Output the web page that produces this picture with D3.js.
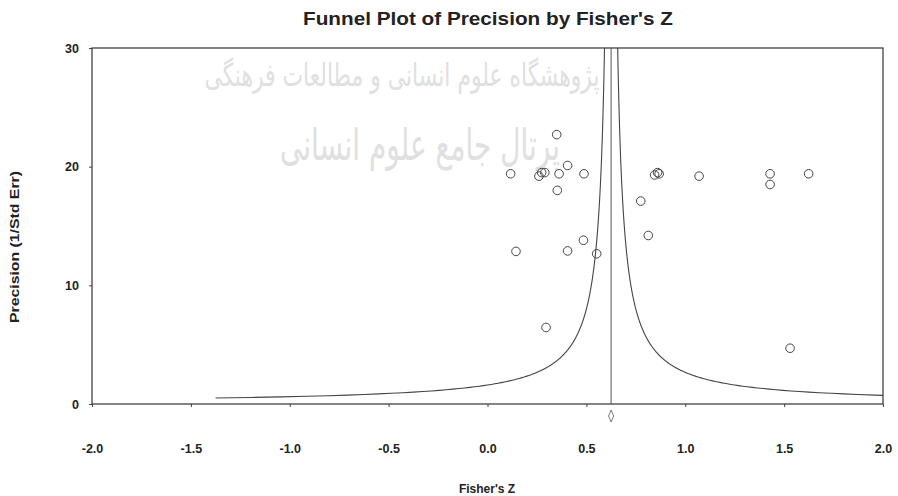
<!DOCTYPE html>
<html>
<head>
<meta charset="utf-8">
<script src="https://cdn.jsdelivr.net/npm/d3@7"></script>
<style>
  body { margin: 0; background: #ffffff; }
  svg { display: block; font-family: "Liberation Sans", Arial, sans-serif; }
</style>
</head>
<body>
<div id="funnel"></div>
<script>

// Study effects (Fisher's Z) and their precision (1/Std Err)
const studyZ = [0.35, 0.117, 0.26, 0.274, 0.29, 0.362, 0.405, 0.488, 0.353,
    0.144, 0.405, 0.485, 0.552, 0.296,
    0.845, 0.86, 0.868, 1.07, 1.429, 1.429, 1.624, 0.775, 0.813, 1.53];
const studyPrecision = [22.7, 19.4, 19.2, 19.5, 19.5, 19.4, 20.1, 19.4, 18.0,
    12.86, 12.9, 13.8, 12.66, 6.45,
    19.3, 19.5, 19.4, 19.2, 19.4, 18.5, 19.4, 17.1, 14.2, 4.7];

// Combined estimate (vertical line and diamond)
const meanZ = 0.625;

// Tick labels
const xTicks = [-2.0, -1.5, -1.0, -0.5, 0.0, 0.5, 1.0, 1.5, 2.0];
const yTicks = [0, 10, 20, 30];

//---------------------------------------------------------------------------------------

const width = 898;
const height = 496;
const margin = { top: 48, right: 15, bottom: 92, left: 92 };

const svg = d3.select("#funnel")
    .append("svg")
    .attr("width", width)
    .attr("height", height);

// Scales
const x = d3.scaleLinear()
    .domain([-2, 2])
    .range([margin.left, width - margin.right]);

const y = d3.scaleLinear()
    .domain([0, 30])
    .range([height - margin.bottom, margin.top]);

//---------------------------------------------------------------------------------------

// Faint watermark behind the plot
const watermark = svg.append("g")
    .attr("fill", "#e0e0e0")
    .attr("font-family", "DejaVu Sans")
    .attr("text-anchor", "middle")
    .attr("direction", "rtl");

watermark.append("text")
    .attr("x", 402)
    .attr("y", 86)
    .attr("font-size", 32)
    .attr("textLength", 395)
    .attr("lengthAdjust", "spacingAndGlyphs")
    .text("پژوهشگاه علوم انسانی و مطالعات فرهنگی");

watermark.append("text")
    .attr("x", 420)
    .attr("y", 160)
    .attr("font-size", 44)
    .attr("textLength", 280)
    .attr("lengthAdjust", "spacingAndGlyphs")
    .text("پرتال جامع علوم انسانی");

//---------------------------------------------------------------------------------------

// Title
svg.append("text")
    .attr("x", 488)
    .attr("y", 25)
    .attr("text-anchor", "middle")
    .attr("font-size", 19)
    .attr("font-weight", "bold")
    .attr("fill", "#222")
    .attr("textLength", 370)
    .attr("lengthAdjust", "spacingAndGlyphs")
    .text("Funnel Plot of Precision by Fisher's Z");

// Axes (plain hyphen for negatives, as in the original)
const fmt = d3.format(".1f");

const xAxis = svg.append("g")
    .attr("transform", `translate(0, ${y(0)})`)
    .call(d3.axisBottom(x)
        .tickValues(xTicks)
        .tickSize(3)
        .tickPadding(37)
        .tickFormat(d => fmt(d).replace("−", "-")));

const yAxis = svg.append("g")
    .attr("transform", `translate(${x(-2)}, 0)`)
    .call(d3.axisLeft(y)
        .tickValues(yTicks)
        .tickSize(3)
        .tickPadding(10));

[xAxis, yAxis].forEach(a => {
    a.select(".domain").remove();
    a.selectAll("line").attr("stroke", "#444");
    a.selectAll("text")
        .attr("font-size", 12.5)
        .attr("font-weight", "bold")
        .attr("font-family", "Liberation Sans, Arial, sans-serif")
        .attr("fill", "#222");
});

// Axis titles
svg.append("text")
    .attr("x", 487)
    .attr("y", 493)
    .attr("text-anchor", "middle")
    .attr("font-size", 12)
    .attr("font-weight", "bold")
    .attr("fill", "#222")
    .text("Fisher's Z");

svg.append("text")
    .attr("transform", `translate(19, 247) rotate(-90)`)
    .attr("text-anchor", "middle")
    .attr("font-size", 12)
    .attr("font-weight", "bold")
    .attr("fill", "#222")
    .attr("textLength", 152)
    .attr("lengthAdjust", "spacingAndGlyphs")
    .text("Precision (1/Std Err)");

//---------------------------------------------------------------------------------------

// Plot frame
svg.append("rect")
    .attr("x", x(-2))
    .attr("y", y(30))
    .attr("width", x(2) - x(-2))
    .attr("height", y(0) - y(30))
    .attr("fill", "none")
    .attr("stroke", "#333")
    .attr("stroke-width", 1.2);

svg.append("clipPath")
    .attr("id", "plot-clip")
    .append("rect")
    .attr("x", x(-2))
    .attr("y", y(30))
    .attr("width", x(2) - x(-2))
    .attr("height", y(0) - y(30));

const plot = svg.append("g")
    .attr("clip-path", "url(#plot-clip)");

// Vertical line at the combined estimate
plot.append("line")
    .attr("x1", x(meanZ))
    .attr("x2", x(meanZ))
    .attr("y1", y(30))
    .attr("y2", y(0))
    .attr("stroke", "#555")
    .attr("stroke-width", 1);

// Funnel limits: combined estimate +/- 1 standard error (1/precision)
const funnelP = d3.range(0.5, 30.5, 0.05);

const funnelLine = d3.line()
    .x(d => x(d[0]))
    .y(d => y(d[1]));

plot.selectAll(".funnel")
    .data([-1, 1])
    .join("path")
    .attr("class", "funnel")
    .attr("d", s => funnelLine(funnelP.map(p => [meanZ + s / p, p])))
    .attr("fill", "none")
    .attr("stroke", "#444")
    .attr("stroke-width", 1.1);

// Study points
plot.selectAll("circle")
    .data(d3.zip(studyZ, studyPrecision))
    .join("circle")
    .attr("cx", d => x(d[0]))
    .attr("cy", d => y(d[1]))
    .attr("r", 4.3)
    .attr("fill", "none")
    .attr("stroke", "#444")
    .attr("stroke-width", 1);

// Diamond for the combined estimate, under the axis
svg.append("path")
    .attr("d", d3.symbol(d3.symbolDiamond, 40)())
    .attr("transform", `translate(${x(meanZ)}, ${y(0) + 12}) scale(0.75, 1)`)
    .attr("fill", "none")
    .attr("stroke", "#555")
    .attr("stroke-width", 0.9);

</script>
</body>
</html>
